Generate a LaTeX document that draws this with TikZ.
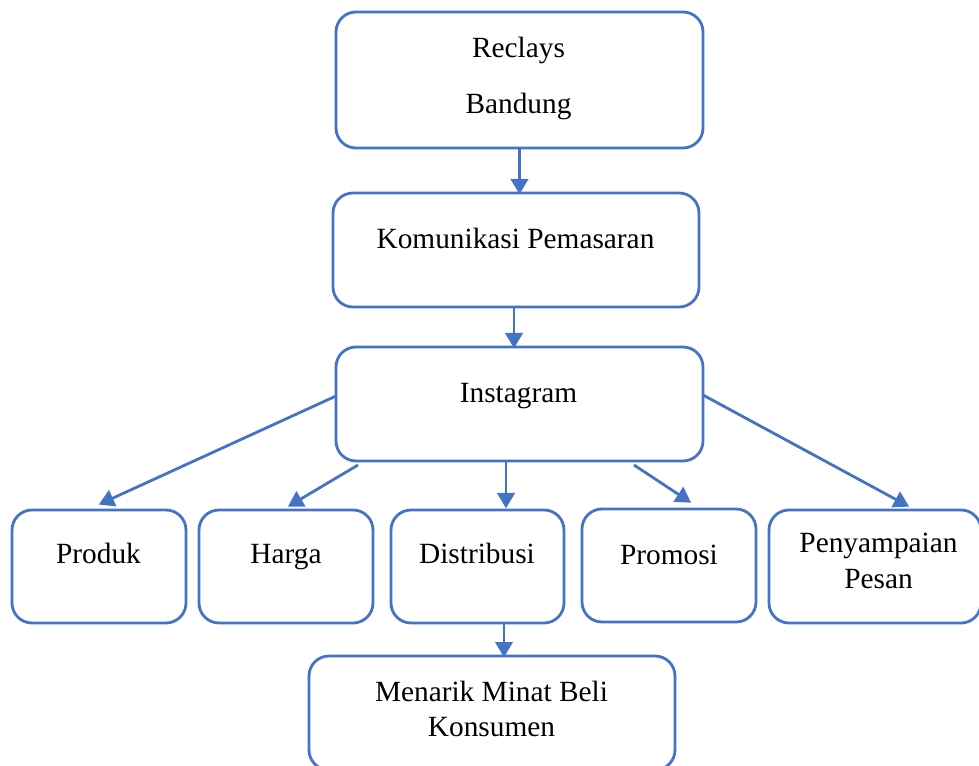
\documentclass[tikz,border=0pt]{standalone}
\usepackage{fontspec}
\setmainfont{Liberation Serif}
\usetikzlibrary{arrows.meta,calc}
\definecolor{wordblue}{HTML}{4472C4}
\tikzset{
  box/.style={draw=wordblue, line width=2.1pt, rounded corners=15pt, inner sep=0pt, outer sep=0pt, fill=white},
  lbl/.style={anchor=base, inner sep=0pt, font=\fontsize{22}{26}\selectfont},
  arr/.style={draw=wordblue, line width=2.1pt, -{Triangle[length=11.5pt,width=13pt]}, shorten >=-1pt}
}
\begin{document}
\begin{tikzpicture}[x=0.75pt,y=-0.75pt]
\useasboundingbox (0,0) rectangle (979,766);
\clip (0,0) rectangle (979,766);
% boxes
\node[box, minimum width=275.25pt, minimum height=102pt] (R) at (519.5,80) {};
\node[box, minimum width=274.5pt, minimum height=85.5pt] (K) at (516,250) {};
\node[box, minimum width=275.25pt, minimum height=85.5pt] (I) at (519.5,404) {};
\node[box, minimum width=130.5pt, minimum height=84.75pt] (P1) at (99,566.5) {};
\node[box, minimum width=130.5pt, minimum height=84.75pt] (P2) at (286,566.5) {};
\node[box, minimum width=129.75pt, minimum height=84.75pt] (P3) at (477.5,566.5) {};
\node[box, minimum width=130.5pt, minimum height=84.75pt] (P4) at (669,565.5) {};
\node[box, minimum width=159pt, minimum height=84.75pt] (P5) at (875,566.5) {};
\node[box, minimum width=274.5pt, minimum height=85.5pt] (M) at (492,713) {};
% texts
\node[lbl] (tR1) at (518.5,58) {Reclays};
\node[lbl] (tR2) at (518.5,114) {Bandung};
\node[lbl] (tK) at (515.5,249) {Komunikasi Pemasaran};
\node[lbl] (tI) at (518.5,403) {Instagram};
\node[lbl] (t1) at (98.5,564) {Produk};
\node[lbl] (t2) at (286,564) {Harga};
\node[lbl] (t3) at (477,564) {Distribusi};
\node[lbl] (t4) at (669,565) {Promosi};
\node[lbl] (t5a) at (878.5,553) {Penyampaian};
\node[lbl] (t5b) at (878.5,589) {Pesan};
\node[lbl] (tM1) at (491.5,701) {Menarik Minat Beli};
\node[lbl] (tM2) at (491.5,736) {Konsumen};
% connectors
\draw[arr] (R.south) -- ($(K.north)+(3.5,0)$);
\draw[arr] ($(K.south)+(-2,0)$) -- ($(I.north)+(-5.5,0)$);
\draw[arr] ($(I.west)+(0,-8)$) -- ($(P1.north)+(1,-6)$);
\draw[arr] ($(I.south west)+(22,4)$) -- ($(P2.north)+(3,-4)$);
\draw[arr] ($(I.south)+(-13.5,0)$) -- ($(P3.north)+(28.5,-3)$);
\draw[arr] ($(I.south)+(114.5,4)$) -- ($(P4.north)+(21,-7)$);
\draw[arr] ($(I.east)+(0,-9)$) -- ($(P5.north)+(33,-4)$);
\draw[arr] ($(P3.south)+(26.5,0)$) -- ($(M.north)+(12,0)$);
\end{tikzpicture}
\end{document}
